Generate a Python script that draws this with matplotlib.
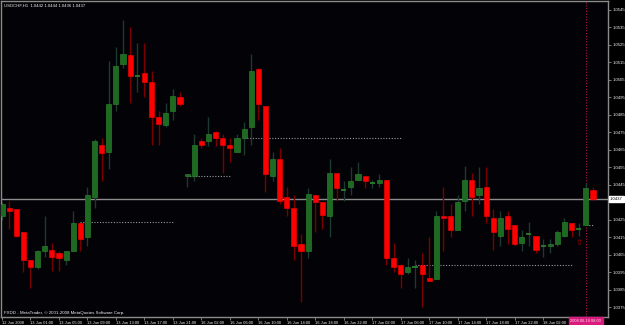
import matplotlib
matplotlib.use("Agg")
import matplotlib.pyplot as plt
import numpy as np

plt.rcParams["font.family"] = ["Liberation Sans", "DejaVu Sans"]

# USDCHF H1 candles (open, high, low, close)
opens = [1.0427, 1.0432, 1.0431, 1.0418, 1.0402, 1.0398, 1.0407, 1.0408, 1.0406, 1.0402,
         1.0407, 1.0423, 1.0415, 1.0438, 1.0468, 1.0464, 1.0491, 1.0514, 1.0519, 1.0507,
         1.0509, 1.0504, 1.0484, 1.0479, 1.0487, 1.0495, 1.0450, 1.0450, 1.0470, 1.0470,
         1.0475, 1.0472, 1.0468, 1.0464, 1.0472, 1.0478, 1.0511, 1.0490, 1.0450, 1.0460,
         1.0438, 1.0432, 1.0411, 1.0407, 1.0439, 1.0435, 1.0427, 1.0452, 1.0442, 1.0444,
         1.0448, 1.0450, 1.0446, 1.0446, 1.0448, 1.0403, 1.0399, 1.0395, 1.0398, 1.0399,
         1.0392, 1.0391, 1.0427, 1.0427, 1.0419, 1.0436, 1.0448, 1.0439, 1.0444, 1.0426,
         1.0416, 1.0427, 1.0422, 1.0412, 1.0417, 1.0416, 1.0410, 1.0410, 1.0411, 1.0416,
         1.0423, 1.0420, 1.0422, 1.0442]
highs = [1.0435, 1.0436, 1.0431, 1.0418, 1.0402, 1.0408, 1.0427, 1.0412, 1.0407, 1.0407,
         1.0430, 1.0423, 1.0444, 1.0471, 1.0472, 1.0516, 1.0524, 1.0539, 1.0535, 1.0526,
         1.0526, 1.0510, 1.0487, 1.0492, 1.0500, 1.0498, 1.0451, 1.0474, 1.0472, 1.0484,
         1.0476, 1.0474, 1.0472, 1.0474, 1.0481, 1.0520, 1.0512, 1.0490, 1.0464, 1.0466,
         1.0444, 1.0439, 1.0417, 1.0443, 1.0439, 1.0435, 1.0460, 1.0452, 1.0447, 1.0455,
         1.0458, 1.0450, 1.0448, 1.0451, 1.0448, 1.0412, 1.0400, 1.0403, 1.0402, 1.0406,
         1.0415, 1.0430, 1.0444, 1.0434, 1.0439, 1.0456, 1.0452, 1.0455, 1.0455, 1.0431,
         1.0430, 1.0430, 1.0422, 1.0419, 1.0424, 1.0416, 1.0414, 1.0414, 1.0419, 1.0426,
         1.0423, 1.0423, 1.0446, 1.0444]
lows = [1.0425, 1.0420, 1.0415, 1.0395, 1.0386, 1.0397, 1.0404, 1.0396, 1.0396, 1.0399,
        1.0407, 1.0407, 1.0410, 1.0432, 1.0447, 1.0454, 1.0487, 1.0512, 1.0492, 1.0498,
        1.0495, 1.0468, 1.0468, 1.0478, 1.0482, 1.0490, 1.0444, 1.0447, 1.0466, 1.0467,
        1.0467, 1.0452, 1.0458, 1.0464, 1.0462, 1.0468, 1.0482, 1.0441, 1.0447, 1.0434,
        1.0427, 1.0402, 1.0378, 1.0403, 1.0418, 1.0420, 1.0415, 1.0436, 1.0436, 1.0439,
        1.0448, 1.0443, 1.0443, 1.0444, 1.0399, 1.0395, 1.0386, 1.0394, 1.0386, 1.0375,
        1.0390, 1.0391, 1.0407, 1.0415, 1.0419, 1.0430, 1.0427, 1.0434, 1.0423, 1.0408,
        1.0410, 1.0411, 1.0410, 1.0407, 1.0410, 1.0406, 1.0404, 1.0406, 1.0410, 1.0415,
        1.0415, 1.0416, 1.0422, 1.0436]
closes = [1.0434, 1.0430, 1.0416, 1.0402, 1.0398, 1.0407, 1.0410, 1.0404, 1.0403, 1.0407,
          1.0423, 1.0414, 1.0439, 1.0470, 1.0463, 1.0491, 1.0513, 1.0520, 1.0507, 1.0507,
          1.0504, 1.0484, 1.0480, 1.0486, 1.0496, 1.0491, 1.0451, 1.0468, 1.0468, 1.0474,
          1.0472, 1.0468, 1.0466, 1.0472, 1.0477, 1.0510, 1.0491, 1.0451, 1.0460, 1.0436,
          1.0432, 1.0410, 1.0407, 1.0440, 1.0435, 1.0428, 1.0452, 1.0443, 1.0442, 1.0447,
          1.0451, 1.0447, 1.0446, 1.0448, 1.0403, 1.0398, 1.0394, 1.0398, 1.0398, 1.0394,
          1.0390, 1.0427, 1.0426, 1.0419, 1.0435, 1.0448, 1.0438, 1.0443, 1.0427, 1.0418,
          1.0426, 1.0420, 1.0411, 1.0415, 1.0417, 1.0408, 1.0410, 1.0411, 1.0418, 1.0424,
          1.0419, 1.0420, 1.0443, 1.0437]

time_labels = ["12 Jun 2008", "13 Jun 01:00", "13 Jun 05:00", "13 Jun 09:00", "13 Jun 13:00",
               "13 Jun 17:00", "13 Jun 21:00", "16 Jun 02:00", "16 Jun 06:00", "16 Jun 10:00",
               "16 Jun 14:00", "16 Jun 18:00", "16 Jun 22:00", "17 Jun 02:00", "17 Jun 06:00",
               "17 Jun 10:00", "17 Jun 14:00", "17 Jun 18:00", "17 Jun 22:00", "18 Jun 02:00"]
price_ticks = [1.0545, 1.0535, 1.0525, 1.0515, 1.0505, 1.0495, 1.0485, 1.0475, 1.0465, 1.0455,
               1.0445, 1.0425, 1.0415, 1.0405, 1.0395, 1.0385, 1.0375]

# dotted level lines: (start bar, end bar, price)
level_start = [11, 26, 34, 58, 82]
level_end = [24, 32, 56, 80, 83]
level_price = [1.0424, 1.0450, 1.0472, 1.0399, 1.0422]

bid = 1.0437
cursor_bar = 82
arrow_bar, arrow_price = 81, 1.0412

fig = plt.figure(figsize=(6.25, 3.25), dpi=100, facecolor="black")
ax = fig.add_axes([1 / 625, 8 / 325, 607 / 625, 316 / 325], facecolor="#030206")

o = np.array(opens)
h = np.array(highs)
l = np.array(lows)
c = np.array(closes)
x = np.arange(len(o))
up = c > o
down = c < o
doji = c == o

bull_body = "#1f6a22"
bull_wick = "#1d3a30"
bear_body = "#ff0000"
bear_wick = "#7a0000"

w = 0.72
ax.vlines(x[up | doji], l[up | doji], h[up | doji], color=bull_wick, lw=1, zorder=2)
ax.vlines(x[down], l[down], h[down], color=bear_wick, lw=1, zorder=2)
ax.bar(x[up], c[up] - o[up], bottom=o[up], width=w, color=bull_body,
       edgecolor="#2d8a2d", lw=0.4, zorder=3)
ax.bar(x[down], o[down] - c[down], bottom=c[down], width=w, color=bear_body,
       edgecolor=bear_body, lw=0.4, zorder=3)
ax.hlines(o[doji], x[doji] - w / 2, x[doji] + w / 2, color="#2d8a2d", lw=1.2, zorder=3)

for s, e, p in zip(level_start, level_end, level_price):
    ax.hlines(p, s, e, color="#9a9aa8", lw=0.8, linestyles=(0, (1, 1.5)), zorder=1)

ax.axhline(bid, color="#8c8c8c", lw=1, zorder=1)
ax.axvline(cursor_bar, color="#b0104a", lw=0.8, linestyle=(0, (1, 1.5)), zorder=1)
ax.text(arrow_bar, arrow_price, "⇧", color="#a00000", fontsize=6,
        family="DejaVu Sans", ha="center", va="center", zorder=4)

ax.set_xlim(-0.14, 85.11)
ax.set_ylim(1.036957, 1.055014)

for sp in ax.spines.values():
    sp.set_color("#8a8a8a")
    sp.set_linewidth(1)

ax.yaxis.tick_right()
ax.set_yticks(price_ticks)
ax.set_yticklabels([f"{p:.4f}" for p in price_ticks])
ax.tick_params(axis="y", colors="#8a8a8a", labelcolor="#f0f0f0", labelsize=3.1,
               length=2, width=0.6, pad=1.2)
ax.set_xticks(np.arange(0, 80, 4))
ax.set_xticklabels(time_labels, ha="left")
ax.tick_params(axis="x", colors="#8a8a8a", labelcolor="#f0f0f0", labelsize=2.9,
               length=2, width=0.6, pad=1)

# current bid label on the price scale
ax.text(1.003, bid, f"{bid:.4f}", transform=ax.get_yaxis_transform(), fontsize=3.1,
        color="black", va="center", ha="left",
        bbox=dict(boxstyle="square,pad=0.25", fc="white", ec="white"))
# cursor time label
ax.text(cursor_bar, -0.005, "2008.06.18 08:00", transform=ax.get_xaxis_transform(),
        fontsize=2.9, color="#ffd8ec", ha="center", va="top",
        bbox=dict(boxstyle="square,pad=0.45", fc="#d81b7c", ec="#d81b7c"))

fig.text(4 / 625, 1 - 6 / 325, "USDCHF,H1  1.0442 1.0444 1.0436 1.0437", color="#f0f0f0",
         fontsize=3.1, va="center", ha="left")
fig.text(4 / 625, 1 - 313 / 325, "FXDD - MetaTrader, © 2001-2008 MetaQuotes Software Corp.",
         color="#f0f0f0", fontsize=3.2, va="center", ha="left")

fig.savefig("out.png", dpi=100, facecolor="black")
